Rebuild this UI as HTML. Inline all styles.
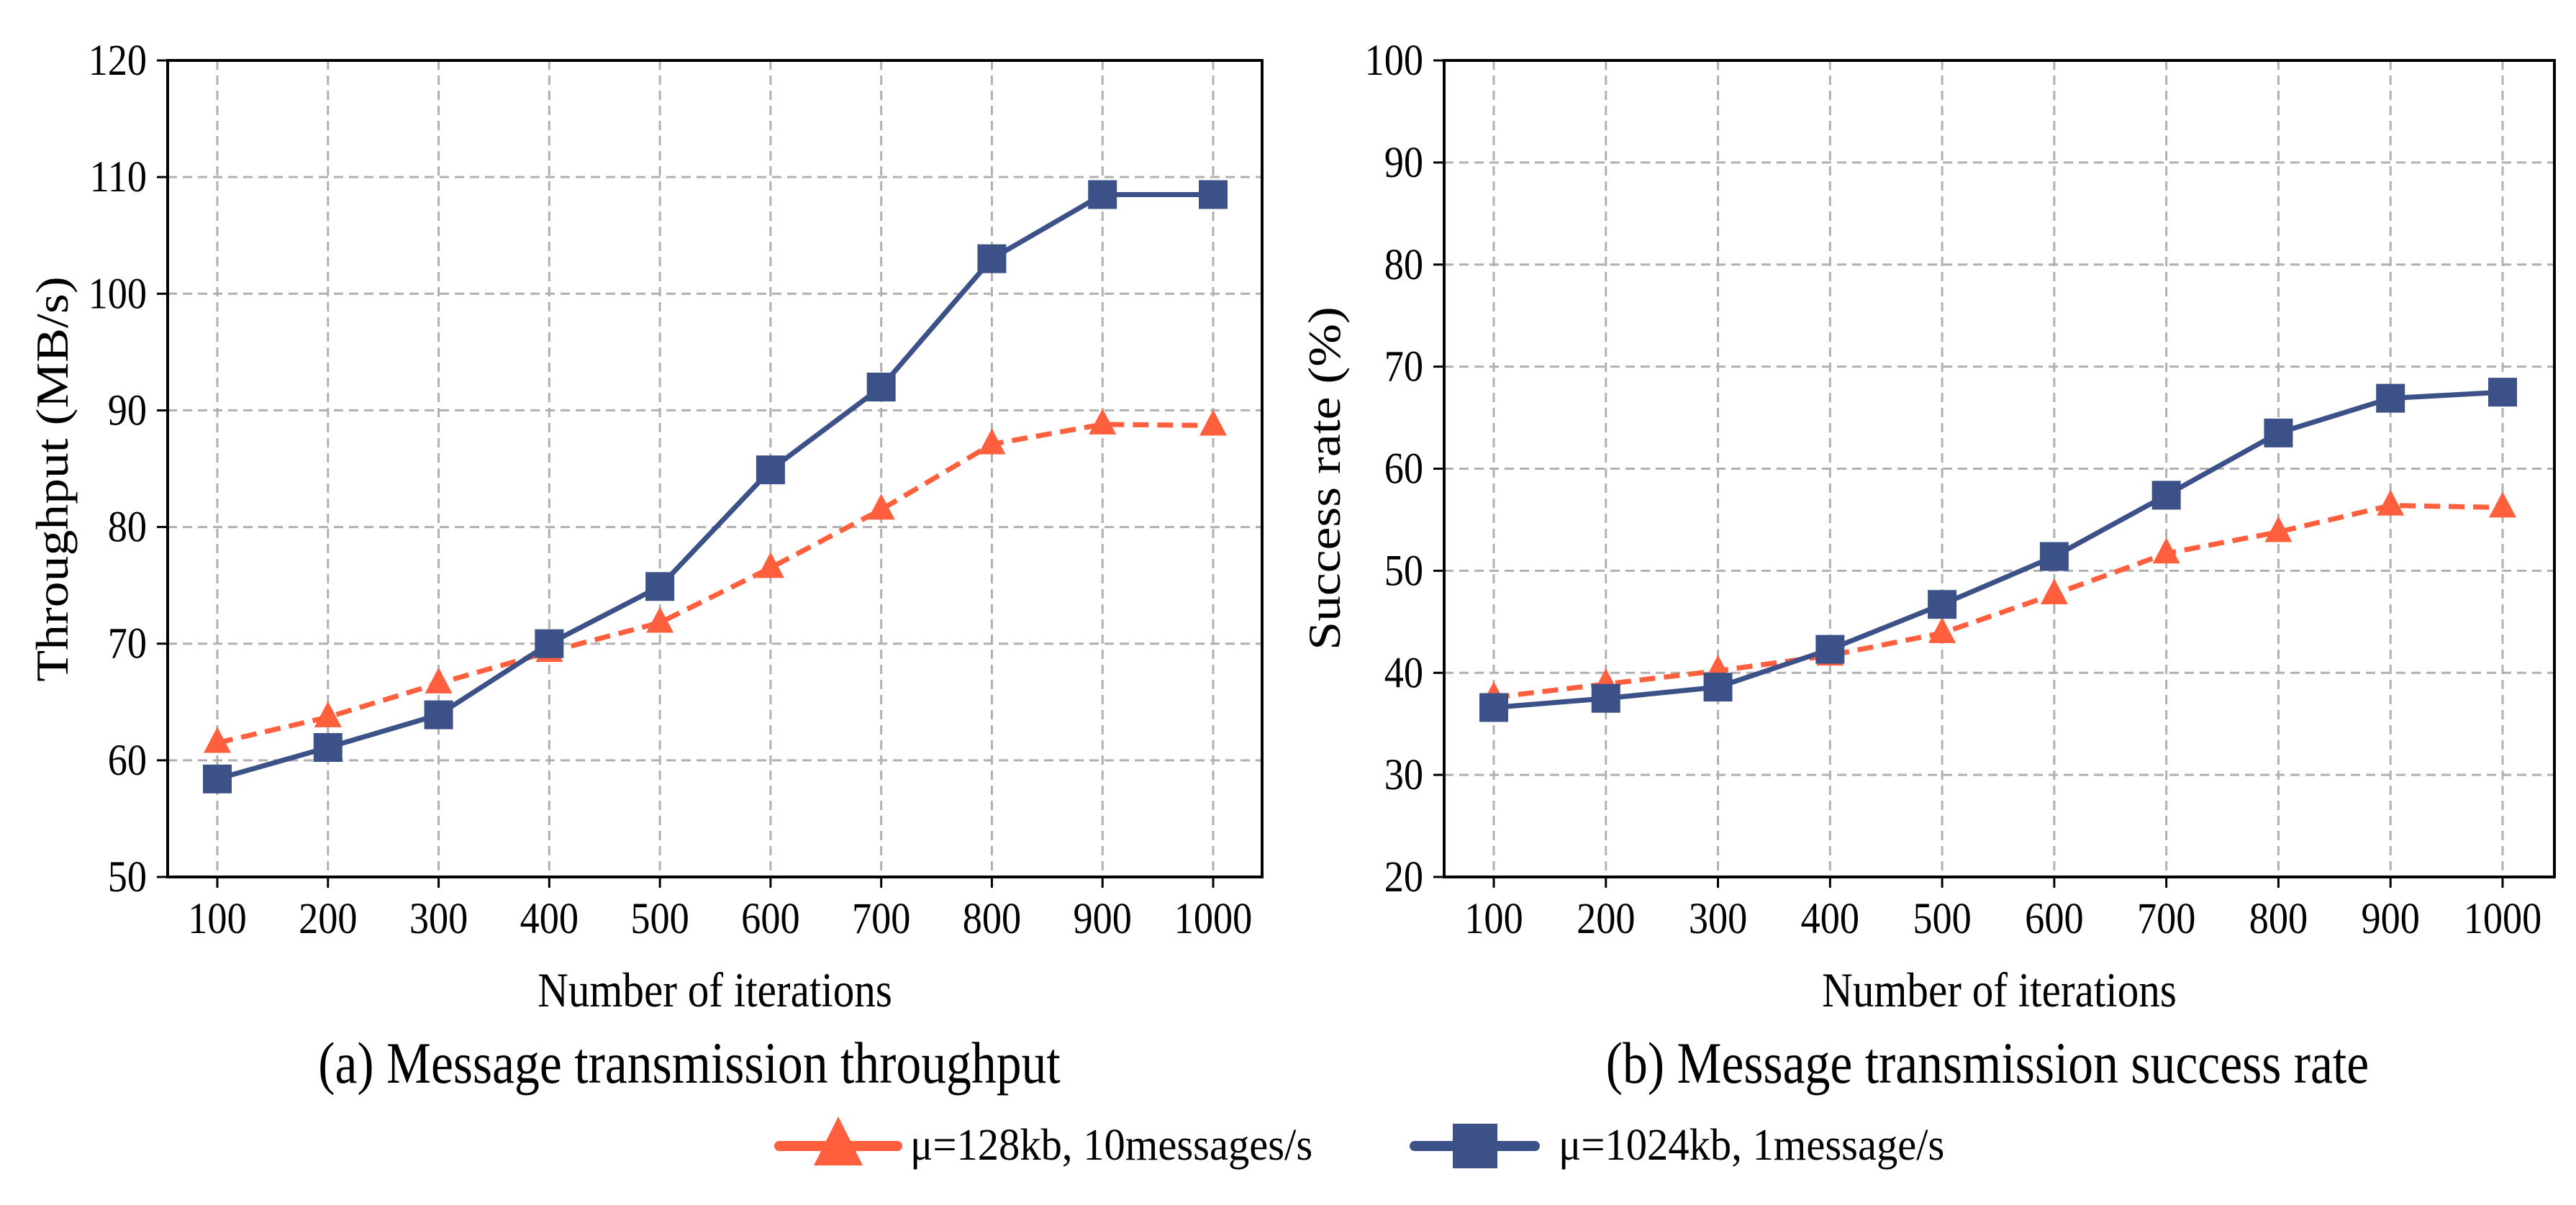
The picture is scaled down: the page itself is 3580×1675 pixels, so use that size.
<!DOCTYPE html>
<html><head><meta charset="utf-8"><style>
html,body{margin:0;padding:0;background:#fff;}
svg{display:block;font-family:"Liberation Serif",serif;}
</style></head><body>
<svg id="chart" width="3580" height="1675" viewBox="0 0 3580 1675" xmlns="http://www.w3.org/2000/svg">
<rect width="3580" height="1675" fill="#fff"/>
</svg>
<script>
const categories = [100,200,300,400,500,600,700,800,900,1000];
const throughputSmall = [61.5,63.7,66.6,69.3,71.8,76.5,81.5,87.1,88.8,88.7];
const throughputLarge = [58.4,61.1,63.9,70.0,74.9,84.9,92.0,103.0,108.5,108.5];
const successSmall = [37.6,38.9,40.2,41.7,43.9,47.7,51.7,53.8,56.4,56.2];
const successLarge = [36.6,37.5,38.6,42.3,46.7,51.4,57.4,63.5,66.9,67.5];
const yTicksA = [50,60,70,80,90,100,110,120];
const yTicksB = [20,30,40,50,60,70,80,90,100];
const seriesNames = ["μ=128kb, 10messages/s","μ=1024kb, 1message/s"];

const NS="http://www.w3.org/2000/svg";
const svg=document.getElementById('chart');
const ORANGE="#ff5f3c", BLUE="#3d5189";
function mk(tag,attrs,parent){const e=document.createElementNS(NS,tag);for(const k in attrs)e.setAttribute(k,attrs[k]);(parent||svg).appendChild(e);return e;}
function txt(parent,x,y,s,size,sx,anchor,rot){
  const t=mk('text',{x:0,y:0,"font-size":size,"text-anchor":anchor||"start",
    transform:`translate(${x},${y})${rot?' rotate(-90)':''} scale(${sx},1)`},parent);
  t.textContent=s;return t;
}

function panel(cfg){
  const g=mk('g',{});
  
  
  const yMin=cfg.yTicks[0], yMax=cfg.yTicks[cfg.yTicks.length-1];
  const sx=v=>cfg.x0+(v-categories[0])/(categories[categories.length-1]-categories[0])*(cfg.x1-cfg.x0);
  const sy=v=>cfg.bottom-(v-yMin)/(yMax-yMin)*(cfg.bottom-cfg.top);
  cfg.yTicks.forEach(t=>{
    const l=mk('line',{x1:cfg.left,x2:cfg.right,y1:sy(t),y2:sy(t),stroke:"#b0b0b0","stroke-width":3,"stroke-dasharray":"13 8"},g);
    
    
    const tk=mk('line',{x1:cfg.left-15,x2:cfg.left,y1:sy(t),y2:sy(t),stroke:"#000","stroke-width":3},g);
    
    
    const tx=txt(g,cfg.left-29,sy(t)+20,String(t),61,0.89,"end");
    
    
  });
  categories.forEach(c=>{
    const l=mk('line',{x1:sx(c),x2:sx(c),y1:cfg.top,y2:cfg.bottom,stroke:"#b0b0b0","stroke-width":3,"stroke-dasharray":"13 8"},g);
    
    
    const tk=mk('line',{x1:sx(c),x2:sx(c),y1:cfg.bottom,y2:cfg.bottom+15,stroke:"#000","stroke-width":3},g);
    
    
    const tx=txt(g,sx(c),1297,String(c),61,0.89,"middle");
    
    
  });
  const frame=mk('rect',{x:cfg.left,y:cfg.top,width:cfg.right-cfg.left,height:cfg.bottom-cfg.top,fill:"none",stroke:"#000","stroke-width":4},g);
  
  
  const pO=categories.map((c,i)=>sx(c)+','+sy(cfg.small[i])).join(' ');
  const lo=mk('polyline',{points:pO,fill:"none",stroke:ORANGE,"stroke-width":7,"stroke-dasharray":"22 12"},g);
  
  
  categories.forEach((c,i)=>{
    const x=sx(c),y=sy(cfg.small[i]);
    const t=mk('polygon',{points:`${x},${y-22} ${x-19},${y+14} ${x+19},${y+14}`,fill:ORANGE},g);
    
    
  });
  const pB=categories.map((c,i)=>sx(c)+','+sy(cfg.large[i])).join(' ');
  const lb=mk('polyline',{points:pB,fill:"none",stroke:BLUE,"stroke-width":7},g);
  
  
  categories.forEach((c,i)=>{
    const x=sx(c),y=sy(cfg.large[i]);
    const r=mk('rect',{x:x-20,y:y-20,width:40,height:40,fill:BLUE},g);
    
    
  });
  const xt=txt(g,(cfg.left+cfg.right)/2,1399,"Number of iterations",68,0.87,"middle");
  
  
  const yt=txt(g,cfg.ytX,cfg.ytY,cfg.yTitle,64,1.12,"middle",true);
  
  
  const cap=txt(g,cfg.capX,1505,cfg.caption,82,0.85,"middle");
  
  
}
panel({name:'throughput-panel',left:233,right:1754,top:84,bottom:1219,x0:302,x1:1686,yTicks:yTicksA,small:throughputSmall,large:throughputLarge,yTitle:"Throughput (MB/s)",ytX:94,ytY:666,caption:"(a) Message transmission throughput",capX:958});
panel({name:'success-rate-panel',left:2007,right:3550,top:84,bottom:1219,x0:2076,x1:3478,yTicks:yTicksB,small:successSmall,large:successLarge,yTitle:"Success rate (%)",ytX:1862,ytY:665,caption:"(b) Message transmission success rate",capX:2762});

const lg=mk('g',{});


const e1=mk('g',{},lg);


mk('line',{x1:1083,x2:1247,y1:1593,y2:1593,stroke:ORANGE,"stroke-width":14,"stroke-linecap":"round"},e1);
mk('polygon',{points:"1165,1552 1131,1620 1199,1620",fill:ORANGE},e1);
txt(e1,1265,1612,seriesNames[0],63,0.93,"start");
const e2=mk('g',{},lg);


mk('line',{x1:1966,x2:2133,y1:1593,y2:1593,stroke:BLUE,"stroke-width":14,"stroke-linecap":"round"},e2);
mk('rect',{x:2019,y:1562,width:62,height:62,fill:BLUE},e2);
txt(e2,2166,1612,seriesNames[1],63,0.93,"start");
</script>
</body></html>
